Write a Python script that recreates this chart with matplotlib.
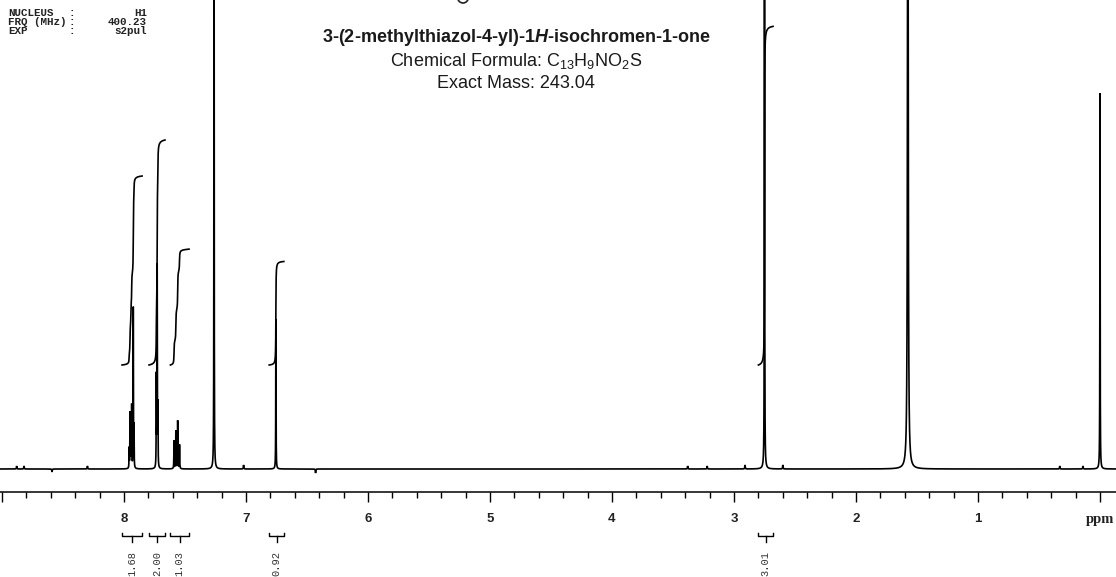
import numpy as np
import matplotlib
matplotlib.use("Agg")
import matplotlib.pyplot as plt
from matplotlib.ticker import FixedLocator, FixedFormatter, MultipleLocator
from matplotlib.patches import Arc

plt.rcParams['mathtext.fontset'] = 'custom'
plt.rcParams['mathtext.rm'] = 'Liberation Sans'
plt.rcParams['mathtext.it'] = 'Liberation Sans:italic:bold'
plt.rcParams['mathtext.bf'] = 'Liberation Sans:bold'

# ---------------- data ----------------
# peak list: chemical shift (ppm), height (intensity units), half width (ppm)
peak_ppm = [7.958, 7.951, 7.944, 7.937, 7.924, 7.918,
            7.735, 7.728, 7.722,
            7.590, 7.575, 7.560, 7.545,
            7.262, 6.755, 2.750, 1.575, 0.000,
            8.88, 8.82, 8.59, 8.30, 7.02, 6.43, 3.38, 3.22, 2.91, 2.60, 0.33, 0.14]
peak_height = [20, 55, 50, 62, 160, 40,
               90, 200, 60,
               28, 38, 48, 24,
               1000, 150, 1200, 900, 376,
               3, 3, -3, 3, 4, -4, 3, 3, 4, 4, 3, 3]
peak_hwhm = [0.0012, 0.0012, 0.0012, 0.0012, 0.0012, 0.0012,
             0.0013, 0.0013, 0.0013,
             0.0015, 0.0015, 0.0015, 0.0015,
             0.0010, 0.0013, 0.0010, 0.0030, 0.0013,
             0.002, 0.002, 0.002, 0.002, 0.002, 0.002, 0.002, 0.002, 0.002, 0.002, 0.002, 0.002]

# integrals
int_start = [8.016, 7.795, 7.620, 6.810, 2.800]
int_end = [7.852, 7.664, 7.467, 6.690, 2.680]
int_value = [1.68, 2.00, 1.03, 0.92, 3.01]
int_labels = ['1.68', '2.00', '1.03', '0.92', '3.01']

# axis ticks
major_ticks = [0, 1, 2, 3, 4, 5, 6, 7, 8, 9]
major_labels = ['ppm', '1', '2', '3', '4', '5', '6', '7', '8', '']

header_keys = ['NUCLEUS', 'FRQ (MHz)', 'EXP']
header_vals = ['H1', '400.23', 's2pul']

title_lines = ['3-(2-methylthiazol-4-yl)-1$\\mathit{H}$-isochromen-1-one',
               'Chemical Formula: C$\\mathregular{_{13}}$H$\\mathregular{_9}$NO$\\mathregular{_2}$S',
               'Exact Mass: 243.04']

# ---------------- figure ----------------
W, H = 1116, 577
fig = plt.figure(figsize=(W / 100, H / 100), dpi=100)
ax = fig.add_axes([0, 85 / H, 1, 492 / H])

ppm = np.linspace(9.05, -0.16, 46051)
spec = np.zeros_like(ppm)
for p, h, w in zip(peak_ppm, peak_height, peak_hwhm):
    spec += h * w ** 2 / ((ppm - p) ** 2 + w ** 2)

ax.plot(ppm, spec, color='black', lw=1.2, solid_joinstyle='miter')

# integral curves (scale 112.5 units per proton, offset 104)
int_scale = 112.5
int_offset = 104
for s, e, v in zip(int_start, int_end, int_value):
    m = (ppm <= s) & (ppm >= e)
    c = np.cumsum(spec[m])
    c = c / c[-1] * v * int_scale + int_offset
    ax.plot(ppm[m], c, color='black', lw=1.2)

ax.set_xlim(1100 / 122, -16 / 122)
ax.set_ylim(-23, 469)

for sp in ['left', 'right', 'top']:
    ax.spines[sp].set_visible(False)
ax.spines['bottom'].set_linewidth(1.1)
ax.set_yticks([])
ax.xaxis.set_major_locator(FixedLocator(major_ticks))
ax.xaxis.set_major_formatter(FixedFormatter(major_labels))
ax.xaxis.set_minor_locator(MultipleLocator(0.2))
ax.tick_params(axis='x', which='major', direction='out', length=7.5, width=1.0, pad=7.5,
               labelsize=9.5)
ax.tick_params(axis='x', which='minor', direction='out', length=4.5, width=1.0)
for lab in ax.get_xticklabels():
    lab.set_fontfamily('Liberation Sans')
    lab.set_fontweight('bold')
    lab.set_color('#222222')
ax.get_xticklabels()[0].set_fontfamily('Liberation Serif')
ax.get_xticklabels()[0].set_fontsize(10.5)

# integral brackets and labels below axis
for s, e, lab in zip(int_start, int_end, int_labels):
    mid = (s + e) / 2
    ax.plot([s, s, e, e], [-64, -67, -67, -64], color='black', lw=1.0, clip_on=False)
    ax.plot([mid, mid], [-67, -73], color='black', lw=1.0, clip_on=False)
    ax.text(mid, -82, lab, rotation=90, ha='center', va='top', fontsize=7.5,
            family='Liberation Mono', color='#333333', clip_on=False)

# header block
for i, (k, v) in enumerate(zip(header_keys, header_vals)):
    y = 1 - (13 + 9 * i) / H
    fig.text(8 / W, y, k, ha='left', va='center', family='Liberation Mono',
             fontweight='bold', fontsize=7.8, color='#222222')
    fig.text(72 / W, y, ':', ha='center', va='center', family='Liberation Mono',
             fontweight='bold', fontsize=7.8, color='#222222')
    fig.text(147 / W, y, v, ha='right', va='center', family='Liberation Mono',
             fontweight='bold', fontsize=7.8, color='#222222')

# partial structure atom (oxygen ring) at the top edge
fig.add_artist(Arc((463 / W, 1 + 3 / H), 11 / W, 12 / H, theta1=180, theta2=360,
                   transform=fig.transFigure, color='#222222', lw=1.2))

# title block
fig.text(516 / W, 1 - 37 / H, title_lines[0], ha='center', va='center',
         family='Liberation Sans', fontweight='bold', fontsize=13, color='#1a1a1a')
fig.text(516 / W, 1 - 61 / H, title_lines[1], ha='center', va='center',
         family='Liberation Sans', fontsize=13, color='#1a1a1a')
fig.text(516 / W, 1 - 83 / H, title_lines[2], ha='center', va='center',
         family='Liberation Sans', fontsize=13, color='#1a1a1a')

fig.savefig('out.png', dpi=100)
